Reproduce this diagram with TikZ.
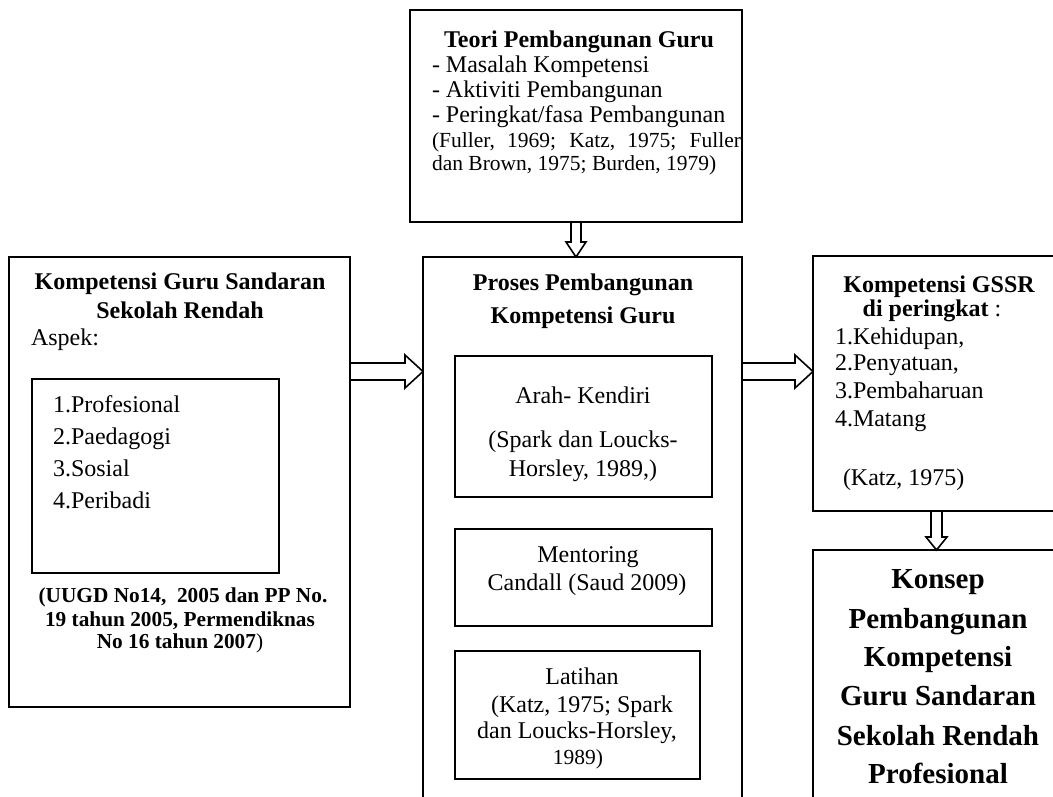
\documentclass[tikz,border=0pt]{standalone}
\usepackage{fontspec}
\setmainfont{Liberation Serif}
\usetikzlibrary{calc}
\begin{document}
\begin{tikzpicture}[x=1pt,y=-1pt,
  box/.style={draw, line width=1.6pt, inner sep=0pt, outer sep=0pt, anchor=north west},
  barrow/.style={draw, line width=1.6pt, line join=miter},
  tx/.style={inner sep=0pt, outer sep=0pt, font=\fontsize{24}{28}\selectfont},
  txb/.style={inner sep=0pt, outer sep=0pt, font=\fontsize{24}{28}\selectfont\bfseries},
  ct/.style={inner sep=0pt, outer sep=0pt, font=\fontsize{21.5}{25}\selectfont},
  ctb/.style={inner sep=0pt, outer sep=0pt, font=\fontsize{21.3}{25}\selectfont\bfseries},
  big/.style={inner sep=0pt, outer sep=0pt, font=\fontsize{29}{35}\selectfont\bfseries}]
\useasboundingbox (0,0) rectangle (1053,796);
\clip (0,0) rectangle (1053,796);

% boxes
\node[box, minimum width=332pt, minimum height=212pt] (T) at (410,10) {};
\node[box, minimum width=341pt, minimum height=450pt] (L) at (9,257) {};
\node[box, minimum width=247pt, minimum height=194pt] (Li) at (32,379) {};
\node[box, minimum width=319pt, minimum height=600pt] (M) at (423,257) {};
\node[box, minimum width=257pt, minimum height=141pt] (M1) at (455,356) {};
\node[box, minimum width=257pt, minimum height=97pt] (M2) at (455,529) {};
\node[box, minimum width=245pt, minimum height=128pt] (M3) at (455,651) {};
\node[box, minimum width=252pt, minimum height=255pt] (R) at (813,256) {};
\node[box, minimum width=252pt, minimum height=300pt] (B) at (813,550) {};

% top box text
\node[txb, anchor=base] (t0) at (579,47) {Teori Pembangunan Guru};
\node[tx, anchor=base west] (t1) at (432,72) {- Masalah Kompetensi};
\node[tx, anchor=base west] (t2) at (432,97) {- Aktiviti Pembangunan};
\node[tx, anchor=base west] (t3) at (432,122) {- Peringkat/fasa Pembangunan};
\node[ct, anchor=base west] (t4) at (432,147) {\makebox[309pt][s]{(Fuller, 1969; Katz, 1975; Fuller}};
\node[ct, anchor=base west] (t5) at (432,170) {dan Brown, 1975; Burden, 1979)};

% left box text
\node[txb, anchor=base] (l0) at (180,289) {Kompetensi Guru Sandaran};
\node[txb, anchor=base] (l1) at (180,318) {Sekolah Rendah};
\node[tx, anchor=base west] (l2) at (31,345) {Aspek:};
\node[tx, anchor=base west] (l3) at (53,412) {1.Profesional};
\node[tx, anchor=base west] (l4) at (53,444) {2.Paedagogi};
\node[tx, anchor=base west] (l5) at (53,476) {3.Sosial};
\node[tx, anchor=base west] (l6) at (53,508) {4.Peribadi};
\node[ctb, anchor=base] (l7) at (183,602) {(UUGD No14,\ \ 2005 dan PP No.};
\node[ctb, anchor=base] (l8) at (180,626) {19 tahun 2005, Permendiknas};
\node[ctb, anchor=base] (l9) at (180,648) {No 16 tahun 2007\mdseries)};

% middle box text
\node[txb, anchor=base] (m0) at (583,290) {Proses Pembangunan};
\node[txb, anchor=base] (m1) at (583,323) {Kompetensi Guru};
\node[tx, anchor=base] (m2) at (583,403) {Arah- Kendiri};
\node[tx, anchor=base] (m3) at (583,447) {(Spark dan Loucks-};
\node[tx, anchor=base] (m4) at (583,476) {Horsley, 1989,)};
\node[tx, anchor=base] (m5) at (588,562) {Mentoring};
\node[tx, anchor=base] (m6) at (587,590) {Candall (Saud 2009)};
\node[tx, anchor=base] (m7) at (582,684) {Latihan};
\node[tx, anchor=base] (m8) at (582,712) {(Katz, 1975; Spark};
\node[tx, anchor=base] (m9) at (577,738) {dan Loucks-Horsley,};
\node[ct, anchor=base] (m10) at (578,764) {1989)};

% right top box text
\node[txb, anchor=base] (r0) at (939,292) {Kompetensi GSSR};
\node[txb, anchor=base] (r1) at (932,316) {di peringkat\mdseries\ :};
\node[tx, anchor=base west] (r2) at (835,344) {1.Kehidupan,};
\node[tx, anchor=base west] (r3) at (835,370) {2.Penyatuan,};
\node[tx, anchor=base west] (r4) at (835,398) {3.Pembaharuan};
\node[tx, anchor=base west] (r5) at (835,426) {4.Matang};
\node[tx, anchor=base west] (r6) at (843,485) {(Katz, 1975)};

% bottom right box text
\node[big, anchor=base] (b0) at (938,588) {Konsep};
\node[big, anchor=base] (b1) at (938,628) {Pembangunan};
\node[big, anchor=base] (b2) at (938,666) {Kompetensi};
\node[big, anchor=base] (b3) at (938,705) {Guru Sandaran};
\node[big, anchor=base] (b4) at (938,745) {Sekolah Rendah};
\node[big, anchor=base] (b5) at (938,783) {Profesional};

% block arrows
\coordinate (ya) at (0,371.5);
\coordinate (xd) at (936.5,0);
\coordinate (a1t) at (L.east |- ya);
\coordinate (a1h) at (M.west |- ya);
\coordinate (a2t) at (M.east |- ya);
\coordinate (a2h) at (R.west |- ya);
\coordinate (a3t) at (T.south);
\coordinate (a3h) at (T.south |- M.north);
\coordinate (a4t) at (xd |- R.south);
\coordinate (a4h) at (xd |- B.north);

\draw[barrow] ($(a1t)+(0,-8.5)$) -- ($(a1h)+(-18,-8.5)$) -- ($(a1h)+(-18,-16.5)$) -- (a1h)
  -- ($(a1h)+(-18,16.5)$) -- ($(a1h)+(-18,8.5)$) -- ($(a1t)+(0,8.5)$);
\draw[barrow] ($(a2t)+(0,-8.5)$) -- ($(a2h)+(-18,-8.5)$) -- ($(a2h)+(-18,-16.5)$) -- (a2h)
  -- ($(a2h)+(-18,16.5)$) -- ($(a2h)+(-18,8.5)$) -- ($(a2t)+(0,8.5)$);
\draw[barrow] ($(a3t)+(-5,0)$) -- ($(a3h)+(-5,-15)$) -- ($(a3h)+(-10,-15)$) -- (a3h)
  -- ($(a3h)+(10,-15)$) -- ($(a3h)+(5,-15)$) -- ($(a3t)+(5,0)$);
\draw[barrow] ($(a4t)+(-5.5,0)$) -- ($(a4h)+(-5.5,-13)$) -- ($(a4h)+(-10.5,-13)$) -- (a4h)
  -- ($(a4h)+(10.5,-13)$) -- ($(a4h)+(5.5,-13)$) -- ($(a4t)+(5.5,0)$);
\end{tikzpicture}
\end{document}
